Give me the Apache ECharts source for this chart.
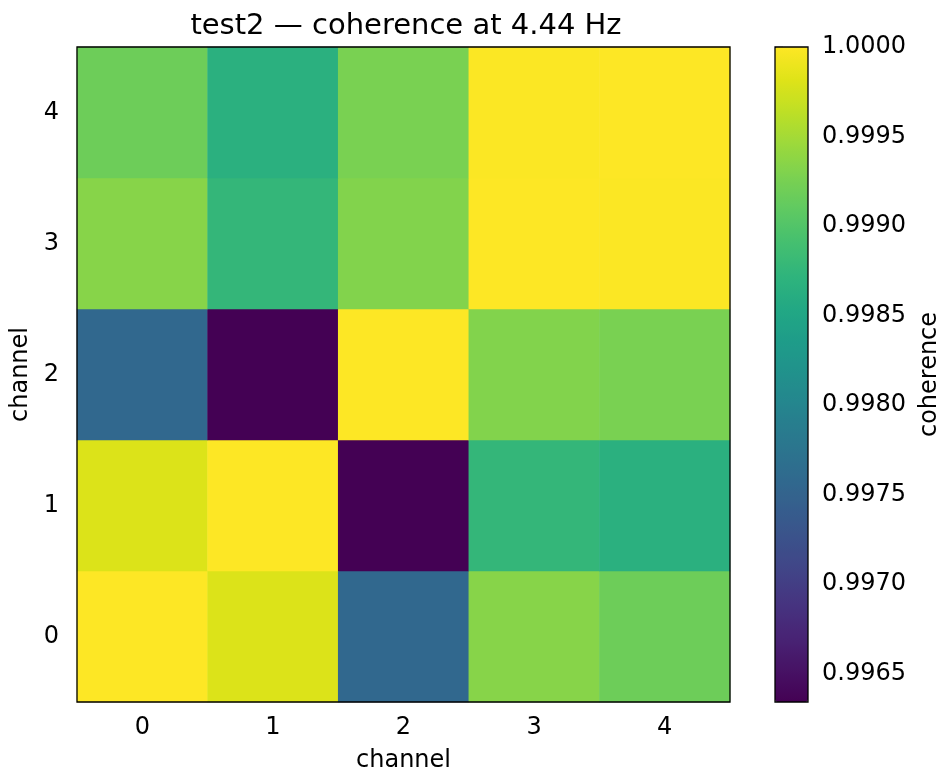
<!DOCTYPE html>
<html>
<head>
<meta charset="utf-8">
<script src="https://cdn.jsdelivr.net/npm/echarts@6/dist/echarts.min.js"></script>
<style>
  html, body { margin: 0; padding: 0; background: #fff; }
  #chart { width: 944px; height: 778px; }
</style>
</head>
<body>
<div id="chart"></div>
<script>
// channel labels (x and y)
var channels = ["0", "1", "2", "3", "4"];
// coherence matrix, rows = y channel (0 at bottom), cols = x channel
var row0 = [1.0000, 0.99980, 0.99757, 0.99934, 0.99918];
var row1 = [0.99980, 1.0000, 0.99634, 0.99876, 0.99866];
var row2 = [0.99757, 0.99634, 1.0000, 0.99931, 0.99926];
var row3 = [0.99934, 0.99876, 0.99931, 1.0000, 0.99999];
var row4 = [0.99918, 0.99866, 0.99926, 0.99999, 1.0000];
var rows = [row0, row1, row2, row3, row4];
// colorbar range and ticks
var cMin = 0.99634;
var cMax = 1.0;
var cTicks = [0.9965, 0.9970, 0.9975, 0.9980, 0.9985, 0.9990, 0.9995, 1.0000];

// viridis colormap, 21 stops
var viridis = ["#440154", "#471365", "#482475", "#463480", "#414487",
  "#3b528b", "#355f8d", "#2f6c8e", "#2a788e", "#25848e", "#21918c",
  "#1e9c89", "#22a884", "#2fb47c", "#44bf70", "#5ec962", "#7ad151",
  "#9bd93c", "#bddf26", "#dfe318", "#fde725"];

var data = [];
rows.forEach(function (r, y) {
  r.forEach(function (v, x) { data.push([x, y, v]); });
});

var font = "DejaVu Sans";
var fs = 24;
var myChart = echarts.init(document.getElementById("chart"));
myChart.setOption({
  animation: false,
  textStyle: { fontFamily: font, color: "#000" },
  title: {
    text: "test2 \u2014 coherence at 4.44 Hz",
    left: 401,
    top: 7,
    textAlign: "center",
    textStyle: { fontFamily: font, fontSize: 29, fontWeight: "normal", color: "#000" }
  },
  grid: [
    { left: 77, top: 47, width: 653, height: 655, show: true, z: 3,
      borderColor: "#000", borderWidth: 1.3, backgroundColor: "transparent" },
    { left: 775, top: 47, width: 33, height: 655, show: true, z: 10,
      borderColor: "#000", borderWidth: 1.3, backgroundColor: "transparent" }
  ],
  xAxis: [
    {
      type: "category", data: channels, gridIndex: 0,
      name: "channel", nameLocation: "middle", nameGap: 47,
      nameTextStyle: { fontFamily: font, fontSize: fs, color: "#000" },
      axisLine: { show: false },
      axisTick: { alignWithLabel: true, length: 8, lineStyle: { color: "#000", width: 1.3 } },
      axisLabel: { fontFamily: font, fontSize: fs, color: "#000", margin: 14 },
      splitLine: { show: false }
    },
    { type: "value", gridIndex: 1, show: false, min: 0, max: 1 }
  ],
  yAxis: [
    {
      type: "category", data: channels, gridIndex: 0,
      name: "channel", nameLocation: "middle", nameGap: 38,
      nameTextStyle: { fontFamily: font, fontSize: fs, color: "#000" },
      axisLine: { show: false },
      axisTick: { alignWithLabel: true, length: 8, lineStyle: { color: "#000", width: 1.3 } },
      axisLabel: { fontFamily: font, fontSize: fs, color: "#000", margin: 18 },
      splitLine: { show: false }
    },
    {
      type: "value", gridIndex: 1, position: "right", min: cMin, max: cMax,
      name: "coherence", nameLocation: "middle", nameGap: 110,
      nameTextStyle: { fontFamily: font, fontSize: fs, color: "#000" },
      axisLine: { show: false },
      splitLine: { show: false },
      axisTick: { show: true, length: 8, customValues: cTicks,
        lineStyle: { color: "#000", width: 1.3 } },
      axisLabel: { fontFamily: font, fontSize: fs, color: "#000", margin: 14,
        customValues: cTicks,
        formatter: function (v) { return v.toFixed(4); } }
    }
  ],
  visualMap: {
    type: "continuous",
    min: cMin, max: cMax,
    seriesIndex: 0,
    calculable: false,
    orient: "vertical",
    left: 775, top: 47,
    itemWidth: 33, itemHeight: 655,
    padding: 0,
    text: null,
    showLabel: false,
    inRange: { color: viridis }
  },
  series: [{
    type: "heatmap",
    xAxisIndex: 0, yAxisIndex: 0,
    data: data,
    itemStyle: { borderWidth: 0 },
    emphasis: { disabled: true }
  }]
});
</script>
</body>
</html>
